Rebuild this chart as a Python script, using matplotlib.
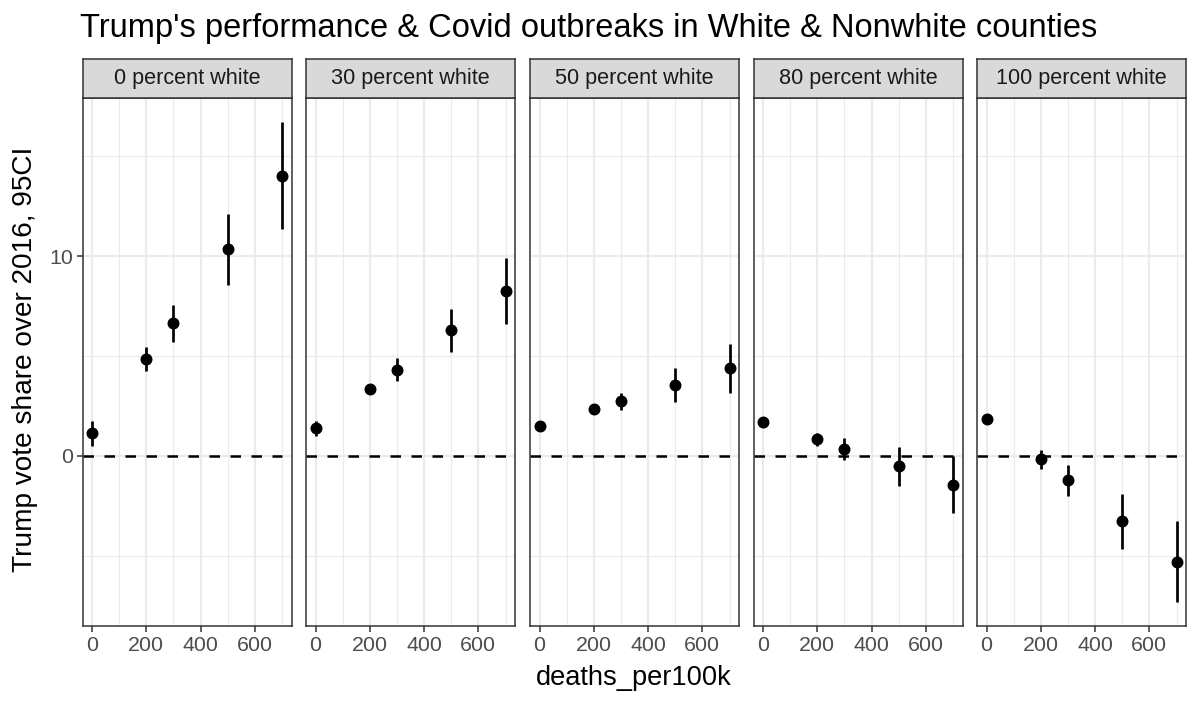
import numpy as np
import matplotlib
matplotlib.use("Agg")
import matplotlib.pyplot as plt

plt.rcParams["font.family"] = ["Liberation Sans", "DejaVu Sans"]

# facet labels and x values
PANELS = ["0 percent white", "30 percent white", "50 percent white",
          "80 percent white", "100 percent white"]
DEATHS = [0, 200, 300, 500, 700]

# point estimates per panel (Trump vote share over 2016)
EST = [
    [1.15, 4.85, 6.65, 10.35, 14.0],
    [1.39, 3.35, 4.31, 6.30, 8.26],
    [1.52, 2.35, 2.74, 3.57, 4.39],
    [1.72, 0.83, 0.37, -0.52, -1.43],
    [1.87, -0.17, -1.20, -3.26, -5.31],
]
# 95% CI bounds
LO = [
    [0.52, 4.25, 5.72, 8.55, 11.35],
    [0.98, 3.11, 3.76, 5.19, 6.60],
    [1.40, 2.22, 2.31, 2.72, 3.15],
    [1.60, 0.52, -0.19, -1.52, -2.87],
    [1.75, -0.65, -1.98, -4.67, -7.31],
]
HI = [
    [1.75, 5.45, 7.58, 12.10, 16.70],
    [1.76, 3.57, 4.90, 7.37, 9.90],
    [1.64, 2.48, 3.17, 4.39, 5.61],
    [1.84, 1.13, 0.91, 0.46, 0.00],
    [1.99, 0.30, -0.44, -1.89, -3.28],
]

W, H = 1200, 705
fig = plt.figure(figsize=(W / 100, H / 100), dpi=100)

lefts = [82.5, 306, 530, 753.5, 977]
pw = 209
ptop, pbot = 98.3, 626
strip_top = 58.5

ymin = min(min(r) for r in LO)
ymax = max(max(r) for r in HI)
pad = (ymax - ymin) * 0.05

for i, name in enumerate(PANELS):
    ax = fig.add_axes([lefts[i] / W, 1 - pbot / H, pw / W, (pbot - ptop) / H])
    sax = fig.add_axes([lefts[i] / W, 1 - ptop / H, pw / W, (ptop - strip_top) / H])
    sax.set_facecolor("#D9D9D9")
    sax.set_xticks([])
    sax.set_yticks([])
    for s in sax.spines.values():
        s.set_color("#333333")
        s.set_linewidth(1.1)
    sax.text(0.5, 0.5, name, ha="center", va="center", fontsize=15.6,
             color="#1A1A1A", transform=sax.transAxes)

    ax.set_xlim(-35, 735)
    ax.set_ylim(ymin - pad, ymax + pad)
    ax.set_xticks([0, 200, 400, 600])
    ax.set_xticks([100, 300, 500, 700], minor=True)
    ax.set_yticks([0, 10])
    ax.set_yticks([-5, 5, 15], minor=True)
    ax.grid(which="major", color="#EBEBEB", lw=1.6, zorder=0)
    ax.grid(which="minor", color="#EBEBEB", lw=0.8, zorder=0)
    ax.set_axisbelow(True)
    ax.tick_params(which="major", length=4, width=1.1, color="#333333",
                   labelsize=15.4, labelcolor="#4D4D4D", pad=3)
    ax.tick_params(which="minor", length=0)
    if i > 0:
        ax.tick_params(axis="y", which="both", left=False, labelleft=False)
    for s in ax.spines.values():
        s.set_color("#333333")
        s.set_linewidth(1.1)

    ax.plot([-35, 700], [0, 0], color="black", lw=1.8, ls=(0, (4.2, 4.2)), zorder=2)
    ax.vlines(DEATHS, LO[i], HI[i], color="black", lw=1.95, zorder=3)
    ax.plot(DEATHS, EST[i], "o", color="black", ms=7.6, zorder=4)

fig.text(634 / W, 1 - 678 / H, "deaths_per100k", ha="center", va="center",
         fontsize=19.6, color="black")
fig.text(25 / W, 1 - 359 / H, "Trump vote share over 2016, 95CI", ha="center",
         va="center", rotation=90, fontsize=20.2, color="black")
fig.text(80 / W, 1 - 28 / H, "Trump's performance & Covid outbreaks in White & Nonwhite counties",
         ha="left", va="center", fontsize=23.5, color="black")

fig.savefig("out.png", dpi=100)
